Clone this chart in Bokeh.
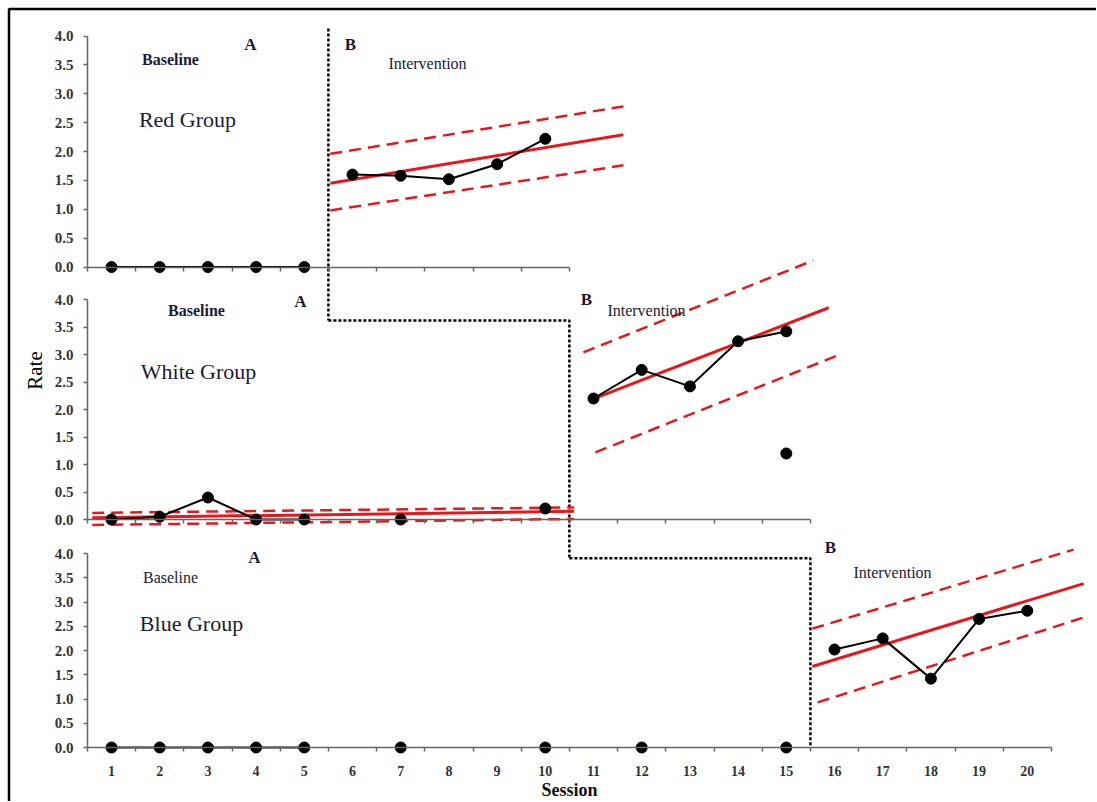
import math
from bokeh.plotting import figure
from bokeh.models import Range1d, LinearAxis, FixedTicker, NumeralTickFormatter, Label
from bokeh.embed import file_html
from bokeh.resources import INLINE

# ---------------- data ----------------
session_ticks = list(range(1, 21))
boundary_ticks = [i + 0.5 for i in range(0, 21)]
rate_ticks = [0.0, 0.5, 1.0, 1.5, 2.0, 2.5, 3.0, 3.5, 4.0]

# Red group
red_base_x = [1, 2, 3, 4, 5]
red_base_y = [0.0, 0.0, 0.0, 0.0, 0.0]
red_int_x = [6, 7, 8, 9, 10]
red_int_y = [1.60, 1.58, 1.52, 1.78, 2.22]
red_trend_x = [5.54, 11.62]
red_trend_mid = [1.45, 2.29]
red_trend_up = [1.96, 2.78]
red_trend_lo = [0.98, 1.76]

# White group
white_base_x = [1, 2, 3, 4, 5]
white_base_y = [0.0, 0.05, 0.40, 0.0, 0.0]
white_extra_x = [7, 10]
white_extra_y = [0.0, 0.20]
white_base_trend_x = [0.6, 10.6]
white_base_trend_mid = [0.03, 0.15]
white_base_trend_up = [0.12, 0.22]
white_base_trend_lo = [-0.10, 0.01]
white_int_x = [11, 12, 13, 14, 15]
white_int_y = [2.20, 2.72, 2.42, 3.24, 3.42]
white_outlier_x = [15]
white_outlier_y = [1.20]
white_trend_mid_x = [10.90, 15.88]
white_trend_mid = [2.16, 3.85]
white_trend_up_x = [10.79, 15.56]
white_trend_up = [3.04, 4.71]
white_trend_lo_x = [11.04, 16.06]
white_trend_lo = [1.22, 2.98]

# Blue group
blue_base_x = [1, 2, 3, 4, 5]
blue_base_y = [0.0, 0.0, 0.0, 0.0, 0.0]
blue_extra_x = [7, 10, 12, 15]
blue_extra_y = [0.0, 0.0, 0.0, 0.0]
blue_int_x = [16, 17, 18, 19, 20]
blue_int_y = [2.02, 2.25, 1.42, 2.65, 2.82]
blue_trend_mid_x = [15.54, 21.17]
blue_trend_mid = [1.67, 3.38]
blue_trend_up_x = [15.54, 20.96]
blue_trend_up = [2.45, 4.08]
blue_trend_lo_x = [15.65, 21.17]
blue_trend_lo = [0.93, 2.68]

# phase change lines (session boundaries)
phase_x = [5.5, 10.5, 15.5]

# ---------------- geometry ----------------
W, H = 1096, 801
FT, FB = 0, H          # frame top/bottom (page px)
FL, FR = 0, W          # frame left/right (page px)
X0, XS = 62.8, 48.2    # session -> page x

panels = {"default": (266.5, 57.75), "mid": (519.0, 55.0), "bot": (747.0, 48.5)}


def prange(name):
    z, k = panels[name]
    return Range1d((z - FB) / k, (z - FT) / k)


def to_units(name, page_y):
    z, k = panels[name]
    return (z - page_y) / k


def to_sess(page_x):
    return (page_x - X0) / XS


p = figure(width=W, height=H, output_backend="svg", toolbar_location=None,
           x_axis_location=None, y_axis_location=None,
           x_range=Range1d(to_sess(FL), to_sess(FR)),
           y_range=prange("default"))
p.extra_y_ranges = {"mid": prange("mid"), "bot": prange("bot")}
p.min_border = 0
p.outline_line_color = None
p.background_fill_color = "white"
p.border_fill_color = "white"
p.xgrid.visible = False
p.ygrid.visible = False

SERIF = "Liberation Serif"
AXC = "#666666"

# outer picture border (top and left edges; the others lie outside the canvas)
p.line([to_sess(8.5), to_sess(8.5), to_sess(1200)],
       [to_units("default", 900), to_units("default", 8.5), to_units("default", 8.5)],
       line_color="black", line_width=2.5)

# ---------------- axes ----------------
x_end = {"default": 10.5, "mid": 15.5, "bot": 20.5}
for name in ["default", "mid", "bot"]:
    last = name == "bot"
    end = x_end[name]
    ax = LinearAxis(y_range_name=name, fixed_location=0, bounds=(0.5, end),
                    ticker=FixedTicker(ticks=session_ticks if last else [],
                                       minor_ticks=[t for t in boundary_ticks if t <= end]))
    ax.axis_line_color = AXC
    ax.axis_line_width = 1.5
    ax.major_tick_in = 0
    ax.major_tick_out = 0
    ax.minor_tick_in = 0
    ax.minor_tick_out = 4
    ax.minor_tick_line_color = AXC
    ax.minor_tick_line_width = 1.5
    ax.major_label_text_font = SERIF
    ax.major_label_text_font_size = "14px"
    ax.major_label_text_font_style = "bold"
    ax.major_label_text_color = "#333333"
    ax.major_label_standoff = 14
    if last:
        ax.axis_label = "Session"
        ax.axis_label_text_font = SERIF
        ax.axis_label_text_font_style = "bold"
        ax.axis_label_text_font_size = "18px"
        ax.axis_label_text_color = "#111111"
        ax.axis_label_standoff = 1
    p.add_layout(ax, "below")

    ay = LinearAxis(y_range_name=name, fixed_location=0.5, bounds=(0, 4),
                    ticker=FixedTicker(ticks=rate_ticks),
                    formatter=NumeralTickFormatter(format="0.0"))
    ay.axis_line_color = AXC
    ay.axis_line_width = 1.5
    ay.major_tick_line_color = AXC
    ay.major_tick_line_width = 1.5
    ay.major_tick_in = 0
    ay.major_tick_out = 4
    ay.minor_tick_line_color = None
    ay.major_label_text_font = SERIF
    ay.major_label_text_font_size = "15px"
    ay.major_label_text_font_style = "bold"
    ay.major_label_text_color = "#333333"
    ay.major_label_standoff = 10
    p.add_layout(ay, "left")

# ---------------- phase change step line ----------------
BLK = dict(line_color="black", line_width=2.5, line_dash="3 2")
top_start = 4.13
mid_level = 3.62
bot_level = 3.90
p.line([phase_x[0], phase_x[0]], [top_start, to_units("default", 320)], **BLK)
p.line([phase_x[0], phase_x[1], phase_x[1]],
       [mid_level, mid_level, to_units("mid", 558)], y_range_name="mid", **BLK)
p.line([phase_x[1], phase_x[2], phase_x[2]], [bot_level, bot_level, 0.0],
       y_range_name="bot", **BLK)

# ---------------- trend lines ----------------
RED = "#e3191e"
SOL = dict(line_color=RED, line_width=3)
DSH = dict(line_color=RED, line_width=2.5, line_dash="12 7")

p.line(red_trend_x, red_trend_mid, **SOL)
p.line(red_trend_x, red_trend_up, **DSH)
p.line(red_trend_x, red_trend_lo, **DSH)

p.line(white_base_trend_x, white_base_trend_mid, y_range_name="mid", **SOL)
p.line(white_base_trend_x, white_base_trend_up, y_range_name="mid", **DSH)
p.line(white_base_trend_x, white_base_trend_lo, y_range_name="mid", **DSH)
p.line(white_trend_mid_x, white_trend_mid, y_range_name="mid", **SOL)
p.line(white_trend_up_x, white_trend_up, y_range_name="mid", **DSH)
p.line(white_trend_lo_x, white_trend_lo, y_range_name="mid", **DSH)

p.line(blue_trend_mid_x, blue_trend_mid, y_range_name="bot", **SOL)
p.line(blue_trend_up_x, blue_trend_up, y_range_name="bot", **DSH)
p.line(blue_trend_lo_x, blue_trend_lo, y_range_name="bot", **DSH)

# ---------------- data series ----------------
LN = dict(line_color="black", line_width=2)
MK = dict(marker="circle", size=11, fill_color="black", line_color="black")


def series(xs, ys, rng, connect=True):
    if connect:
        p.line(xs, ys, y_range_name=rng, **LN)
    p.scatter(xs, ys, y_range_name=rng, **MK)


series(red_base_x, red_base_y, "default")
series(red_int_x, red_int_y, "default")
series(white_base_x, white_base_y, "mid")
series(white_extra_x, white_extra_y, "mid", connect=False)
series(white_int_x, white_int_y, "mid")
series(white_outlier_x, white_outlier_y, "mid", connect=False)
series(blue_base_x, blue_base_y, "bot")
series(blue_extra_x, blue_extra_y, "bot", connect=False)
series(blue_int_x, blue_int_y, "bot")

# ---------------- text labels ----------------
TXT = "#1b1b33"


def lab(text, px, py, rng, size, bold=False, angle=0.0, color=TXT):
    p.add_layout(Label(x=to_sess(px), y=to_units(rng, py), y_range_name=rng,
                       text=text, text_align="center", text_baseline="middle",
                       text_font=SERIF, text_font_size=size,
                       text_font_style="bold" if bold else "normal",
                       text_color=color, angle=angle))


lab("Baseline", 170, 59, "default", "16px", bold=True)
lab("A", 250, 44, "default", "17px", bold=True)
lab("B", 350, 44, "default", "17px", bold=True)
lab("Intervention", 427, 63, "default", "16px")
lab("Red Group", 187, 119, "default", "22px")

lab("Baseline", 196, 310, "mid", "16px", bold=True)
lab("A", 300, 301, "mid", "17px", bold=True)
lab("B", 586, 299, "mid", "17px", bold=True)
lab("Intervention", 646, 310, "mid", "16px")
lab("White Group", 198, 371, "mid", "22px")

lab("A", 254, 557, "bot", "17px", bold=True)
lab("Baseline", 170, 577, "bot", "16px")
lab("Blue Group", 191, 623, "bot", "22px")
lab("B", 830, 547, "bot", "17px", bold=True)
lab("Intervention", 892, 572, "bot", "16px")

lab("Rate", 34, 370, "mid", "21px", angle=math.pi / 2, color="black")

open("out.html", "w").write(file_html(p, INLINE))
